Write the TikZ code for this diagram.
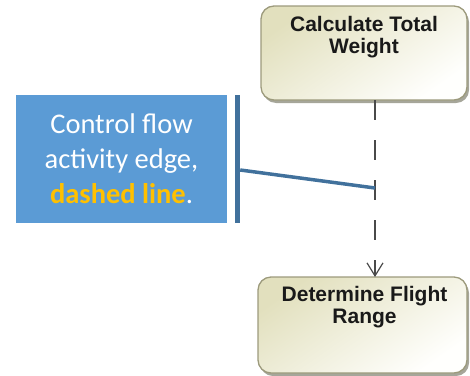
\documentclass[tikz,border=0pt]{standalone}
\usepackage{fontspec}
\setmainfont{Liberation Sans}
\newfontfamily\calloutfont{Carlito}
\usetikzlibrary{arrows.meta,shadows,calc}

\definecolor{actTop}{HTML}{E2E0BE}
\definecolor{actBot}{HTML}{FFFFFD}
\definecolor{actEdge}{HTML}{9C9A7C}
\definecolor{actShadow}{HTML}{A6A69A}
\definecolor{calloutBlue}{HTML}{5B9BD5}
\definecolor{pinBlue}{HTML}{41719C}
\definecolor{hiOrange}{HTML}{FFC000}
\definecolor{flowGrey}{HTML}{4A4A4A}

\tikzset{
  action/.style={draw=actEdge, line width=1.3pt, rounded corners=13pt,
    top color=actTop, bottom color=actBot, shading angle=35,
    drop shadow={shadow xshift=2pt, shadow yshift=-3pt, fill=actShadow, opacity=1},
    inner sep=0pt},
  actlabel/.style={anchor=north, inner sep=0pt, align=center, text=black!90,
    font=\fontsize{21}{22}\selectfont\bfseries},
  callout/.style={fill=calloutBlue, inner sep=0pt, text=white, align=center,
    font=\calloutfont\fontsize{28.5}{35}\selectfont},
  pinbar/.style={fill=pinBlue, inner sep=0pt, minimum width=5pt, minimum height=128pt},
  controlflow/.style={draw=flowGrey, line width=1.2pt, dash pattern=on 20pt off 20pt,
    -{Straight Barb[length=13pt, width=16pt, line width=1.2pt]}},
  pinline/.style={draw=pinBlue, line width=3.5pt}
}

\begin{document}
\begin{tikzpicture}[x=1pt, y=-1pt]
  \useasboundingbox (0,0) rectangle (470,375);

  % action nodes
  \node[action, minimum width=206pt, minimum height=94pt] (calc) at (364,53) {};
  \node[actlabel] (calcText) at (364,16) {Calculate Total\\Weight};

  \node[action, minimum width=209pt, minimum height=96pt] (range) at (362.5,325) {};
  \node[actlabel] (rangeText) at (364.5,286) {Determine Flight\\Range};

  % control flow edge
  \coordinate (flowTop) at (375,100);
  \coordinate (flowEnd) at (375,277);
  \draw[controlflow] (flowTop) -- (flowEnd);

  % callout
  \node[callout, minimum width=211pt, minimum height=128pt] (note) at (121.5,159)
    {Control flow\\activity edge,\\{\bfseries\color{hiOrange}dashed line}.};
  \node[pinbar] (bar) at (237.5,159) {};
  \coordinate (pinTip) at (375,188);
  \draw[pinline] ($(bar.east)+(0,11)$) -- (pinTip);
\end{tikzpicture}
\end{document}
